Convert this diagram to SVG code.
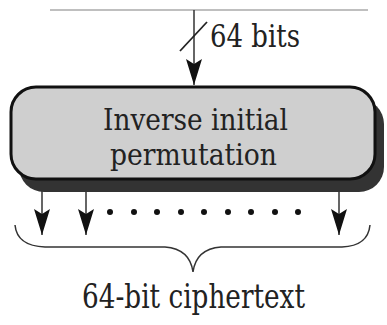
<svg xmlns="http://www.w3.org/2000/svg" width="387" height="325" viewBox="0 0 387 325">
<style>
text{font-family:'DejaVu Serif','Liberation Serif',serif;fill:#222;}
.ln{stroke:#333;stroke-width:1.5;fill:none;}
.dot{fill:#111;}
</style>
<defs>
<marker id="ah" markerUnits="userSpaceOnUse" markerWidth="28" markerHeight="16" refX="26" refY="8" orient="auto" viewBox="0 0 28 16">
<path d="M0,0 L5,8 L0,16 L26,8 Z" fill="#111"/>
</marker>
</defs>
<rect width="387" height="325" fill="#fff"/>
<g id="connectors">
<line x1="50" y1="10" x2="368" y2="10" stroke="#aaa" stroke-width="1.5"/>
<line class="ln" x1="194" y1="10" x2="194" y2="85" marker-end="url(#ah)"/>
<line x1="180" y1="51" x2="207" y2="22" stroke="#222" stroke-width="1.8"/>
<line class="ln" x1="42" y1="180" x2="42" y2="235" marker-end="url(#ah)"/>
<line class="ln" x1="86" y1="180" x2="86" y2="235" marker-end="url(#ah)"/>
<line class="ln" x1="339" y1="180" x2="339" y2="235" marker-end="url(#ah)"/>
</g>
<g id="label-64bits">
<text x="210" y="47" font-size="32" textLength="90" lengthAdjust="spacingAndGlyphs">64 bits</text>
</g>
<g id="node-iip">
<rect x="19" y="99" width="365" height="93" rx="25" fill="#333"/>
<rect x="11" y="87" width="364" height="92" rx="25" fill="#cfcfcf" stroke="#111" stroke-width="3"/>
<text x="103" y="130" font-size="30" textLength="185" lengthAdjust="spacingAndGlyphs">Inverse initial</text>
<text x="110" y="165" font-size="30" textLength="167" lengthAdjust="spacingAndGlyphs">permutation</text>
</g>
<g id="dots">
<circle class="dot" cx="110" cy="212" r="3"/>
<circle class="dot" cx="134" cy="212" r="3"/>
<circle class="dot" cx="157" cy="212" r="3"/>
<circle class="dot" cx="181" cy="212" r="3"/>
<circle class="dot" cx="204" cy="212" r="3"/>
<circle class="dot" cx="228" cy="212" r="3"/>
<circle class="dot" cx="251" cy="212" r="3"/>
<circle class="dot" cx="275" cy="212" r="3"/>
<circle class="dot" cx="298" cy="212" r="3"/>
</g>
<g id="brace">
<path d="M15,225 Q17,246 45,247 L165,247 Q190,249 193,272 Q196,249 221,247 L342,247 Q368,246 370,225" fill="none" stroke="#333" stroke-width="1.5"/>
</g>
<g id="label-ciphertext">
<text x="82" y="308" font-size="33" textLength="223" lengthAdjust="spacingAndGlyphs">64-bit ciphertext</text>
</g>
</svg>
